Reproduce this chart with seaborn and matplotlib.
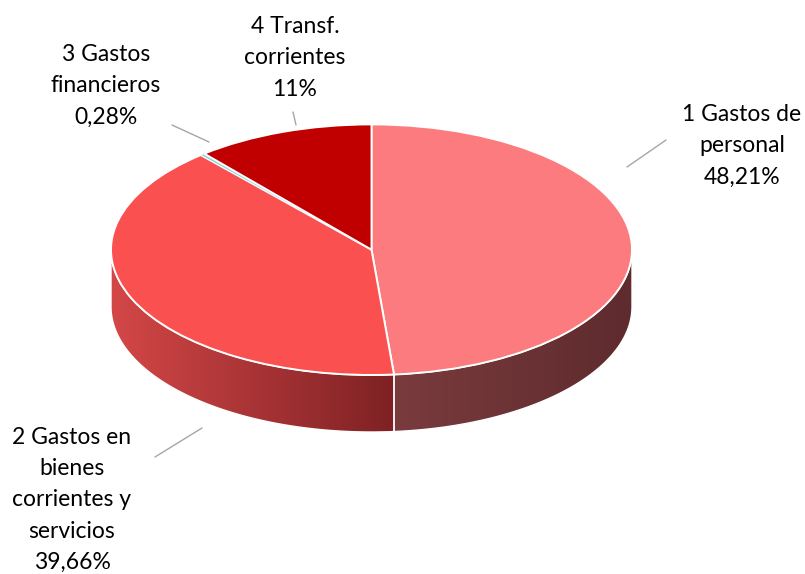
import numpy as np
import matplotlib
matplotlib.use("Agg")
import matplotlib.pyplot as plt
import seaborn as sns
from matplotlib.patches import Polygon
from matplotlib.colors import LinearSegmentedColormap

# Budget chapters and their share of spending
categories = [
    "1 Gastos de\npersonal",
    "2 Gastos en\nbienes\ncorrientes y\nservicios",
    "3 Gastos\nfinancieros",
    "4 Transf.\ncorrientes",
]
shares = [48.21, 39.66, 0.28, 11]
pct_labels = ["48,21%", "39,66%", "0,28%", "11%"]

top_colors = ["#FB7B7E", "#FA5050", "#8ED8E0", "#C00000"]
side_colors = [("#7A3B3D", "#5E2B2E"), ("#D44747", "#7E2124"),
               ("#5FA8B0", "#3E7C84"), ("#8A0000", "#600000")]

sns.set_theme(style="white")
plt.rcParams["font.family"] = ["Lato", "DejaVu Sans"]

W, H = 805, 574
fig = plt.figure(figsize=(W / 100, H / 100), dpi=100)
ax = fig.add_axes([0, 0, 1, 1])

# pixel geometry of the tilted disc
CX, CY, RX, RY, DEPTH = 371.5, 249.7, 260.5, 125.3, 57


def px(x, y):
    """Convert figure pixel position (origin top-left) to data coords."""
    return (x - CX) / RX, (CY - y) / RY


wedges, _ = ax.pie(
    shares, colors=top_colors, startangle=90, counterclock=False, radius=1,
    wedgeprops=dict(edgecolor="white", linewidth=1.4, zorder=3),
)
wedges[2].set_linewidth(0.4)

depth = DEPTH / RY


def front_spans(t1, t2):
    spans = []
    for k in (-360, 0, 360):
        a, b = max(t1, 180 + k), min(t2, 360 + k)
        if b > a:
            spans.append((a, b))
    return spans


# side walls of the disc, shaded left to right
for w, (c0, c1) in zip(wedges, side_colors):
    for a, b in front_spans(w.theta1, w.theta2):
        t = np.radians(np.linspace(a, b, 200))
        xs = np.cos(t)
        ys = np.sin(t)
        verts = np.vstack([
            np.column_stack([xs, ys]),
            np.column_stack([xs[::-1], ys[::-1] - depth]),
        ])
        poly = Polygon(verts, closed=True, facecolor="none",
                       edgecolor="white", linewidth=1.0, zorder=2.5)
        ax.add_patch(poly)
        cmap = LinearSegmentedColormap.from_list("side", [c0, c1])
        grad = np.linspace(0, 1, 256).reshape(1, -1)
        im = ax.imshow(grad, cmap=cmap, aspect="auto",
                       extent=(xs.min(), xs.max(), ys.min() - depth, ys.max()),
                       zorder=2, interpolation="bilinear")
        im.set_clip_path(poly)

ax.set_aspect("auto")
ax.set_xlim(-CX / RX, (W - CX) / RX)
ax.set_ylim((CY - H) / RY, CY / RY)
ax.axis("off")

# data labels with leader lines
label_pos = [(742, 146), (72, 500), (106, 86), (295, 58)]
leaders = [((627, 167), (666, 140)), ((155, 457), (202, 428)),
           ((172, 125), (209, 142)), ((293, 112), (296, 125))]

for cat, pct, (lx, ly), (p0, p1) in zip(categories, pct_labels, label_pos, leaders):
    ax.text(*px(lx, ly), f"{cat}\n{pct}", ha="center", va="center",
            fontsize=16.5, color="#000000", linespacing=1.6, zorder=5)
    (x0, y0), (x1, y1) = px(*p0), px(*p1)
    ax.plot([x0, x1], [y0, y1], color="#A6A6A6", linewidth=1.0, zorder=4)

fig.savefig("out.png", dpi=100, facecolor="white")
